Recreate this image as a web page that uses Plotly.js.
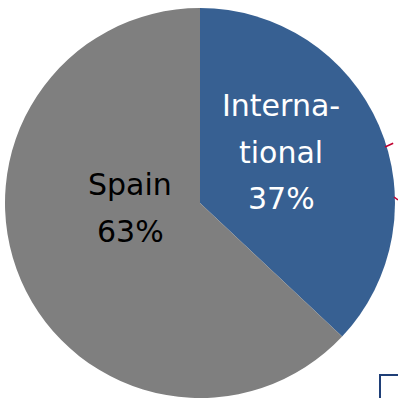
<!DOCTYPE html>
<html>
<head>
<meta charset="utf-8">
<script src="https://cdn.plot.ly/plotly-3.0.1.min.js"></script>
<style>html,body{margin:0;padding:0;background:#fff;}#chart{width:398px;height:398px;}</style>
</head>
<body>
<div id="chart"></div>
<script>
// Data
var labels = ['International', 'Spain'];
var displayLabels = ['Interna-<br>tional', 'Spain'];
var values = [37, 63];
var colors = ['#376092', '#7F7F7F'];
var textColors = ['#FFFFFF', '#000000'];

var W = 398, H = 398;
var total = values.reduce(function(a, b){ return a + b; }, 0);

var trace = {
  type: 'pie',
  labels: labels,
  values: values,
  sort: false,
  direction: 'clockwise',
  rotation: 0,
  textinfo: 'none',
  hoverinfo: 'label+percent',
  marker: {colors: colors, line: {width: 0}},
  domain: {x: [5 / W, 395 / W], y: [0, 390 / H]},
  showlegend: false
};

// label block centres (px) and line spacing
var blockPos = [{x: 281, y: 152}, {x: 130, y: 208}];
var lineGap = 46;
var annotations = [];
labels.forEach(function(lab, i){
  var lines = displayLabels[i].split('<br>');
  lines.push(Math.round(values[i] / total * 100) + '%');
  var n = lines.length;
  lines.forEach(function(t, k){
    var py = blockPos[i].y + (k - (n - 1) / 2) * lineGap;
    annotations.push({
      xref: 'paper', yref: 'paper',
      x: blockPos[i].x / W, y: 1 - py / H,
      xanchor: 'center', yanchor: 'middle',
      text: t, showarrow: false,
      font: {family: 'DejaVu Sans', size: 30, color: textColors[i]}
    });
  });
});

var shapes = [
  {type: 'line', xref: 'paper', yref: 'paper', x0: 385 / W, y0: 1 - 147 / H, x1: 398 / W, y1: 1 - 141 / H,
   line: {color: '#C00030', width: 1.5, dash: 'dash'}},
  {type: 'line', xref: 'paper', yref: 'paper', x0: 394 / W, y0: 1 - 197 / H, x1: 398 / W, y1: 1 - 200 / H,
   line: {color: '#C00030', width: 1.5}},
  {type: 'path', xref: 'paper', yref: 'paper',
   path: 'M ' + (380 / W) + ' 0 L ' + (380 / W) + ' ' + (1 - 375 / H) + ' L 1 ' + (1 - 375 / H),
   line: {color: '#1F3F77', width: 2}}
];

var layout = {
  width: W, height: H,
  margin: {l: 0, r: 0, t: 0, b: 0},
  paper_bgcolor: '#FFFFFF',
  plot_bgcolor: '#FFFFFF',
  annotations: annotations,
  shapes: shapes
};

Plotly.newPlot('chart', [trace], layout, {displayModeBar: false, staticPlot: true});
</script>
</body>
</html>
